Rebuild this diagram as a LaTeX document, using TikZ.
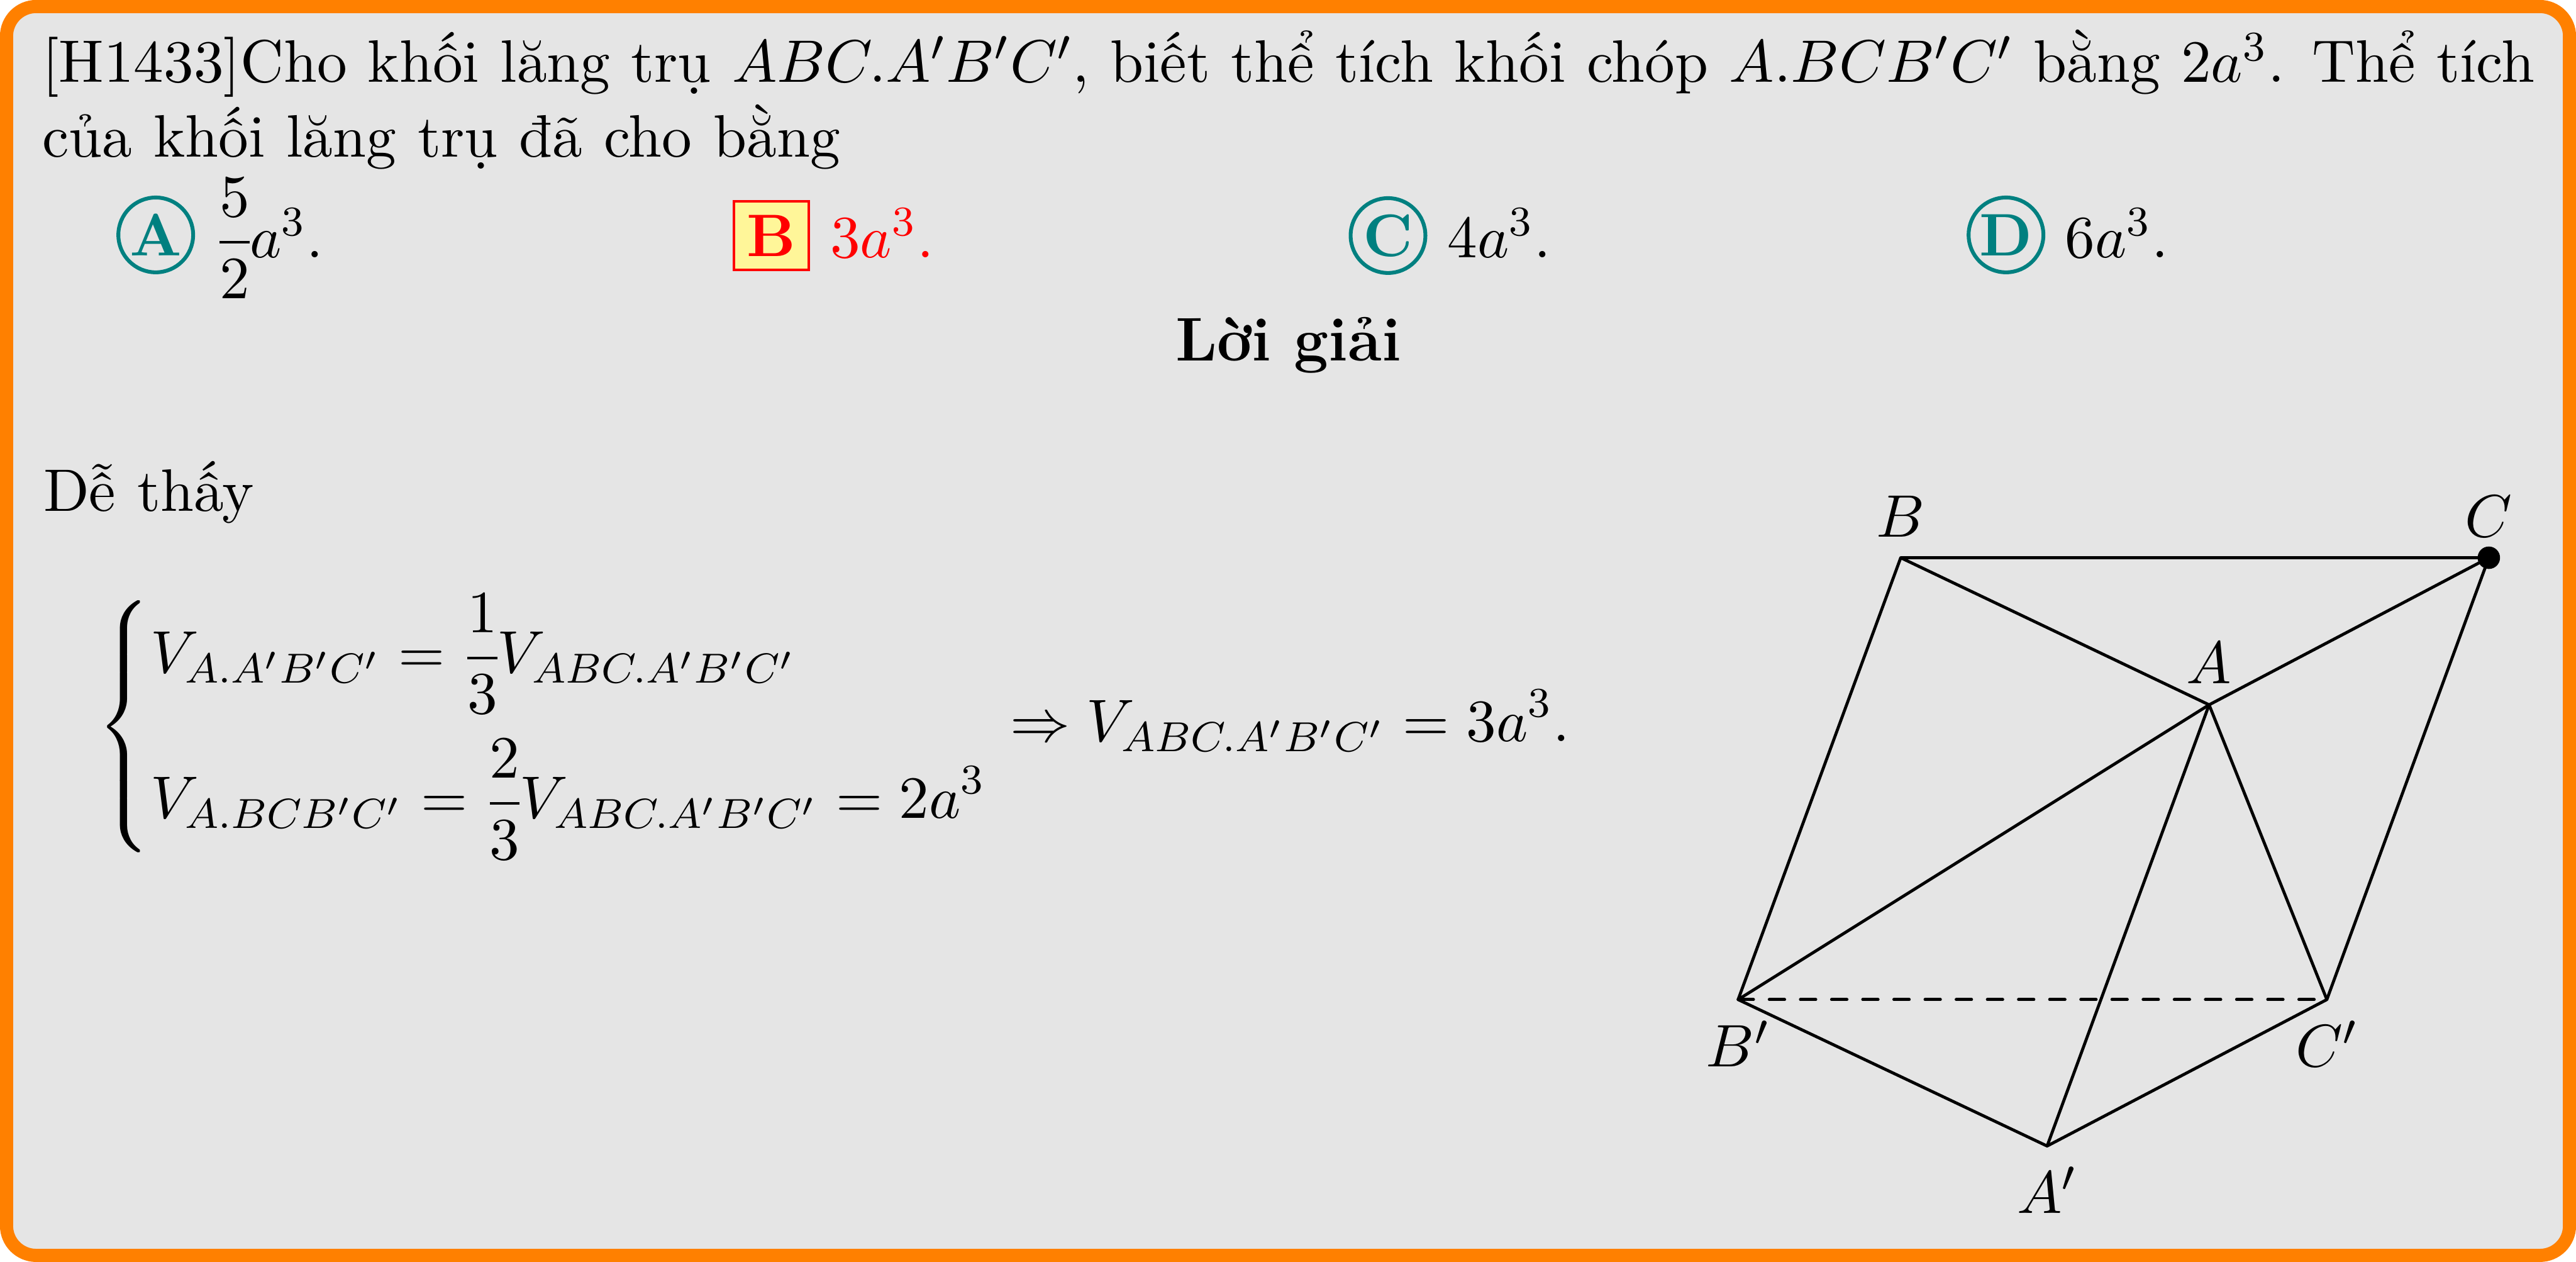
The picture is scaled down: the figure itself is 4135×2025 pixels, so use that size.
\documentclass[tikz,border=0pt,11pt]{standalone}
\usepackage{amsmath}
% Cỡ chỉ số nhỏ hơn một chút
\DeclareFontShape{OML}{cmm}{m}{it}{<5><6><7><8><9>gen*cmmi<7.665>cmmi8<10><10.95>cmmi10<12><14.4><17.28><20.74><24.88>cmmi12}{}
\DeclareFontShape{OT1}{cmr}{m}{n}{<5><6><7><8><9><10><12>gen*cmr<7.665>cmr8<10.95>cmr10<14.4>cmr12<17.28><20.74><24.88>cmr17}{}
\DeclareMathSizes{10.95}{10.95}{7.665}{6}
\definecolor{khung}{RGB}{255,128,0}
\definecolor{nen}{RGB}{229,229,229}
\definecolor{xanh}{RGB}{0,128,128}
\definecolor{vang}{RGB}{255,246,153}
\nulldelimiterspace=0pt
\tikzset{
  phuongan/.style={circle,draw=xanh,line width=0.7pt,text=xanh,font=\bfseries,minimum size=0.48cm,inner sep=0pt},
  dapan/.style={rectangle,draw=red,fill=vang,line width=0.4pt,text=red,font=\bfseries,minimum width=0.48cm,minimum height=0.44cm,inner sep=0pt},
  chu/.style={anchor=base west,inner sep=0pt,execute at begin node={\spaceskip=3.9pt plus 1.8pt minus 1.2pt}},
  canh/.style={line width=0.55pt,line join=round},
  khuat/.style={line width=0.55pt,line cap=round,dash pattern=on 2.8pt off 2.89pt}
}
\begin{document}
\begin{tikzpicture}[x=0.04mm,y=-0.04mm]
  \useasboundingbox (0,0) rectangle (4135,2025);
  % Khung nền
  \draw[draw=khung,fill=nen,line width=2.4pt,rounded corners=0.19cm] (10.5,10.5) rectangle (4124.5,2014.5);
  % Đề bài
  \node[chu,text width=16cm,align=justify] (debai) at (66,132) {\baselineskip=13.6pt [H1433]Cho khối lăng trụ $ABC.A'B'C'$, biết thể tích khối chóp $A.BCB'C'$ bằng $2a^3$. Thể tích của khối lăng trụ đã cho bằng};
  % Các phương án
  \node[phuongan] (pa) at (250,377) {A};
  \node[dapan] (pb) at (1238,378) {B};
  \node[phuongan] (pc) at (2228,378) {C};
  \node[phuongan] (pd) at (3220,377) {D};
  \node[chu] (ta) at (351,413) {$\dfrac{5}{2}a^3$.};
  \node[chu,text=red] (tb) at (1331,413) {$3a^3$.};
  \node[chu] (tc) at (2322,413) {$4a^3$.};
  \node[chu] (td) at (3313,413) {$6a^3$.};
  \node[anchor=base,inner sep=0pt,font=\fontsize{11.25}{13.6}\bfseries\selectfont] (loigiai) at (2068,579) {Lời giải};
  % Lời giải
  \node[chu] (dethay) at (68,820) {Dễ thấy};
  \node[chu] (heva) at (154,1190) {$\displaystyle\left\{\begin{aligned}
      &V_{A.A'B'C'}=\kern1pt\dfrac{1}{3}V_{ABC.A'B'C'}\\[0.6pt]
      &V_{A.BCB'C'}=\kern1pt\dfrac{2}{3}V_{ABC.A'B'C'}=2a^3
    \end{aligned}\right.\kern1.4pt\Rightarrow V_{ABC.A'B'C'}=3a^3.$};
  % Hình lăng trụ
  \coordinate (A) at (3546,1131);
  \coordinate (B) at (3051,895);
  \coordinate (C) at (3995,895);
  \coordinate (A') at (3286,1839);
  \coordinate (B') at (2790,1604);
  \coordinate (C') at (3735,1604);
  \draw[canh] (B) -- (C) -- (C') -- (A') -- (B') -- (B) -- (A) -- (C);
  \draw[canh] (B') -- (A) -- (C');
  \draw[canh] (A) -- (A');
  \draw[khuat] (B') -- (C');
  \fill (C) circle (18);
  % Nhãn các đỉnh
  \node[above] (nA) at (A) {$A$};
  \node[above] (nB) at (B) {$B$};
  \node[above] (nC) at (C) {$C$};
  \node[below] (nA') at (A') {$A'$};
  \node[below] (nB') at (B') {$B'$};
  \node[below] (nC') at (C') {$C'$};
\end{tikzpicture}
\end{document}
